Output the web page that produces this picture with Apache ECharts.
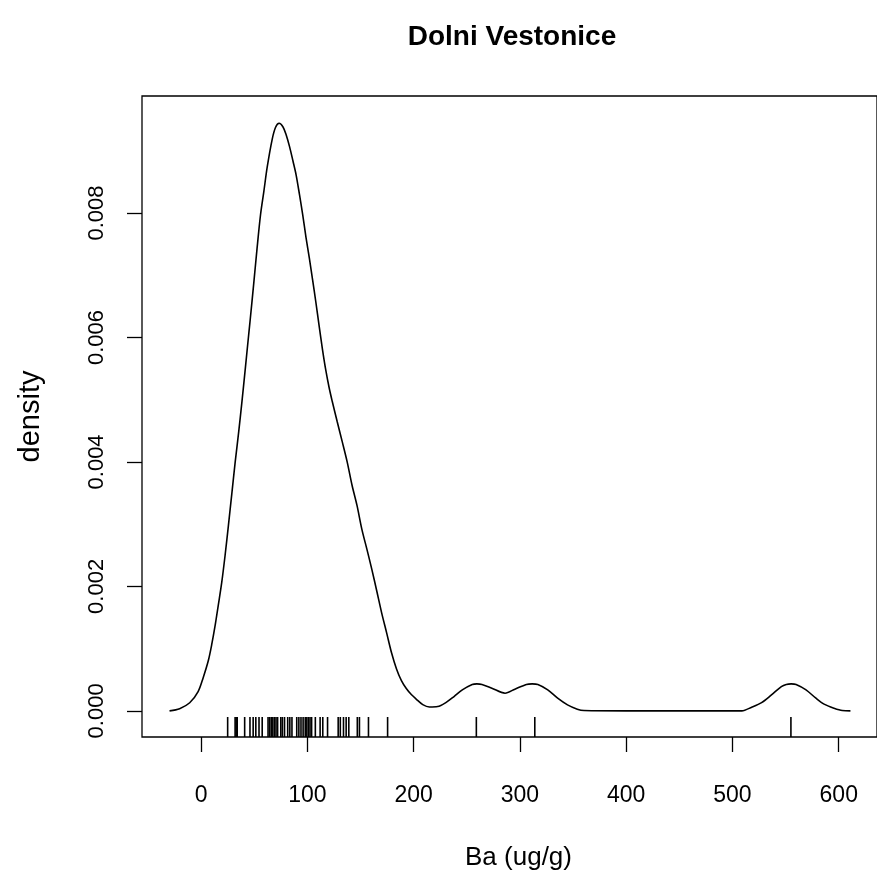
<!DOCTYPE html>
<html>
<head>
<meta charset="utf-8">
<script src="https://cdn.jsdelivr.net/npm/echarts@6/dist/echarts.min.js"></script>
<style>
html,body{margin:0;padding:0;background:#fff;}
#chart{width:877px;height:883px;}
</style>
</head>
<body>
<div id="chart"></div>
<script>
// Density estimate curve (x = Ba ug/g, y = density)
const densityX = [-29.7, -20.2, -10.7, -2.8, 1.9, 6.7, 9.9, 13.1, 16.2, 19.4, 22.6, 25.7, 28.9, 32.1, 35.3, 38.4, 41.6, 44.8, 46.3, 49.5, 52.6, 55.9, 59.1, 62.2, 66.9, 70.1, 73.4, 77.1, 80.1, 83.3, 86.4, 89.4, 92.6, 95.6, 98.7, 101.9, 104.9, 108.0, 111.1, 114.2, 117.3, 120.4, 123.5, 128.1, 132.8, 137.4, 142.1, 146.7, 151.3, 156.0, 160.6, 165.3, 169.9, 174.6, 179.2, 183.8, 188.5, 193.1, 197.8, 202.4, 208.6, 214.8, 222.6, 230.3, 238.0, 245.8, 255.1, 259.5, 264.3, 273.6, 286.0, 295.3, 306.1, 311.5, 316.9, 326.2, 335.5, 344.8, 354.0, 360.3, 400, 450, 508.8, 518.1, 527.4, 536.7, 546.0, 550.6, 555.2, 559.9, 569.2, 578.5, 586.2, 595.5, 603.3, 611];
const densityY = [0, 0.000035, 0.000130, 0.000310, 0.000530, 0.000800, 0.001055, 0.001360, 0.001700, 0.002060, 0.002500, 0.002977, 0.003488, 0.004000, 0.004470, 0.004961, 0.005500, 0.006048, 0.006300, 0.006860, 0.007420, 0.007968, 0.008352, 0.008736, 0.009184, 0.009377, 0.009441, 0.009382, 0.009253, 0.009062, 0.008839, 0.008614, 0.008294, 0.007974, 0.007610, 0.007269, 0.006930, 0.006566, 0.006182, 0.005810, 0.005478, 0.005200, 0.004966, 0.004646, 0.004326, 0.004006, 0.003622, 0.003301, 0.002917, 0.002598, 0.002278, 0.001926, 0.001574, 0.001253, 0.000933, 0.000678, 0.000485, 0.000358, 0.000262, 0.000190, 0.000100, 0.000062, 0.000069, 0.000133, 0.000230, 0.000337, 0.000425, 0.000434, 0.000425, 0.000365, 0.000284, 0.000349, 0.000425, 0.000434, 0.000425, 0.000337, 0.000204, 0.000096, 0.000027, 0.000005, 0, 0, 0, 0.000059, 0.000133, 0.000257, 0.000390, 0.000425, 0.000434, 0.000425, 0.000337, 0.000204, 0.000108, 0.000043, 0.000005, 0];

// Rug: individual observations
const rugValues = [25, 32, 33, 34, 41, 46, 49, 51.5, 54.5, 57.5, 63, 64.5, 66, 67.5, 69, 70.5, 72, 75, 76.5, 78.5, 81.5, 83.5, 85.5, 90, 92, 94, 96, 98, 99.5, 101, 102.5, 104, 107.5, 112, 114.5, 119, 129, 131, 134, 136.5, 139, 147, 149, 157.5, 175.5, 259, 314, 555];

// Tick labels
const xTicks = [0, 100, 200, 300, 400, 500, 600];
const yTicks = [0, 0.002, 0.004, 0.006, 0.008];

const titleText = 'Dolni Vestonice';
const xName = 'Ba (ug/g)';
const yName = 'density';

const labelFont = "'Liberation Sans', Arial, sans-serif";

const chart = echarts.init(document.getElementById('chart'), null, {renderer: 'canvas'});
const curve = densityX.map((x, i) => [x, densityY[i]]);
const rug = rugValues.map(v => [v]);
const yMin = -0.00042;

chart.setOption({
  animation: false,
  backgroundColor: '#ffffff',
  title: {
    text: titleText,
    left: 507,
    top: 18,
    textAlign: 'center',
    textStyle: {fontFamily: "'Liberation Sans', Arial, sans-serif", fontWeight: 'bold', fontSize: 28, color: '#000'}
  },
  grid: {
    left: 142, top: 96, right: -10, bottom: 146,
    show: true, borderColor: '#000', borderWidth: 1.3, backgroundColor: 'transparent',
    containLabel: false
  },
  xAxis: {
    type: 'value', min: -55.6, max: 636,
    name: xName, nameLocation: 'middle', nameGap: 108,
    nameTextStyle: {fontFamily: labelFont, fontSize: 26, color: '#000', padding: [0, 0, 0, 18]},
    axisLine: {show: false, onZero: false},
    splitLine: {show: false},
    axisTick: {show: true, customValues: xTicks, length: 15, inside: false, lineStyle: {color: '#000', width: 1.3}},
    axisLabel: {show: true, customValues: xTicks, margin: 47, fontFamily: labelFont, fontSize: 23, color: '#000'}
  },
  yAxis: {
    type: 'value', min: yMin, max: 0.00988,
    name: yName, nameLocation: 'middle', nameGap: 97, nameRotate: 90,
    nameTextStyle: {fontFamily: labelFont, fontSize: 29, color: '#000'},
    axisLine: {show: false, onZero: false},
    splitLine: {show: false},
    axisTick: {show: true, customValues: yTicks, length: 15, inside: false, lineStyle: {color: '#000', width: 1.3}},
    axisLabel: {show: true, customValues: yTicks, rotate: 90, margin: 34, fontFamily: labelFont, fontSize: 22, color: '#000',
      formatter: v => v.toFixed(3)}
  },
  series: [
    {
      type: 'line', data: curve, showSymbol: false, smooth: 0.3,
      lineStyle: {color: '#000', width: 1.6}, silent: true
    },
    {
      type: 'custom', data: rug, silent: true,
      renderItem: function (params, api) {
        const p = api.coord([api.value(0), yMin]);
        return {
          type: 'line',
          shape: {x1: p[0], y1: p[1], x2: p[0], y2: p[1] - 20},
          style: {stroke: '#000', lineWidth: 1.6}
        };
      }
    }
  ]
});
</script>
</body>
</html>
